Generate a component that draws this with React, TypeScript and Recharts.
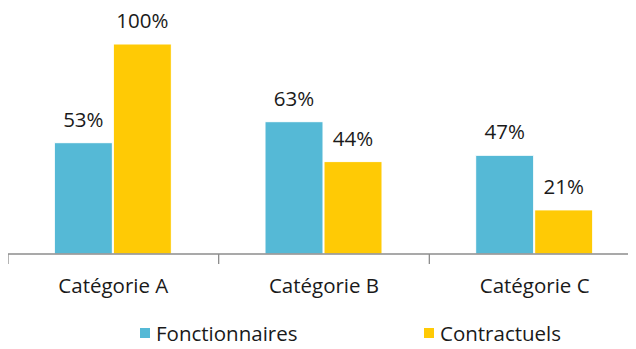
import React from "react";
import { BarChart, Bar, XAxis, YAxis, LabelList, Legend } from "recharts";

const categories = ["Catégorie A", "Catégorie B", "Catégorie C"];
const fonctionnaires = [53, 63, 47];
const contractuels = [100, 44, 21];
const seriesNames = ["Fonctionnaires", "Contractuels"];
const colors = ["#55B9D6", "#FFCA05"];

const data = categories.map((c, i) => ({
  name: c,
  f: fonctionnaires[i],
  c: contractuels[i],
}));

const CHART_W = 632;
const MARGIN = { top: 36, right: 0, left: 0, bottom: 0 };
const BAND = (CHART_W - MARGIN.left - MARGIN.right) / categories.length;
const FONT = "'Open Sans', sans-serif";
const FS = 20.5;

const Tick = (props: any) => {
  const { x, y, payload } = props;
  return (
    <g>
      <line x1={x - BAND / 2} y1={y} x2={x - BAND / 2} y2={y + 10} stroke="#8c8c8c" strokeWidth={1.3} />
      <text x={x} y={y + 39} textAnchor="middle" fontSize={FS} fill="#1a1a1a" fontFamily={FONT}>
        {payload.value}
      </text>
    </g>
  );
};

const LegendContent = () => (
  <div style={{ position: "relative", height: 32, fontFamily: FONT, fontSize: FS, color: "#1a1a1a" }}>
    {seriesNames.map((n, i) => (
      <div key={n} style={{ position: "absolute", left: i === 0 ? 132 : 416, top: 0, height: 32, display: "flex", alignItems: "center" }}>
        <span style={{ width: 10, height: 10, background: colors[i], display: "inline-block", marginRight: 6 }} />
        <span>{n}</span>
      </div>
    ))}
  </div>
);

export default function App() {
  return (
    <div style={{ width: 628, height: 341, overflow: "hidden" }}>
      <BarChart
        width={CHART_W}
        height={341}
        data={data}
        margin={MARGIN}
        barGap={1}
        barCategoryGap="22%"
      >
        <XAxis
          dataKey="name"
          axisLine={{ stroke: "#8c8c8c", strokeWidth: 1.3 }}
          tickLine={false}
          tickSize={0}
          tickMargin={0}
          tick={<Tick />}
          height={63}
          interval={0}
        />
        <YAxis hide domain={[0, 100]} width={0} />
        <Legend verticalAlign="bottom" align="left" height={32} content={<LegendContent />} wrapperStyle={{ left: 0, bottom: 0, width: 628 }} />
        <Bar dataKey="f" fill={colors[0]} stroke="#ffffff" strokeWidth={1} isAnimationActive={false}>
          <LabelList dataKey="f" position="top" offset={16} formatter={(v: any) => `${v}%`} fontSize={FS} fill="#1a1a1a" fontFamily={FONT} />
        </Bar>
        <Bar dataKey="c" fill={colors[1]} stroke="#ffffff" strokeWidth={1} isAnimationActive={false}>
          <LabelList dataKey="c" position="top" offset={16} formatter={(v: any) => `${v}%`} fontSize={FS} fill="#1a1a1a" fontFamily={FONT} />
        </Bar>
      </BarChart>
    </div>
  );
}
